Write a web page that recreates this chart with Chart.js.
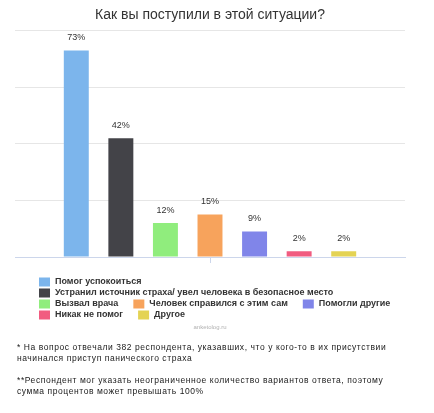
<!DOCTYPE html>
<html><head><meta charset="utf-8">
<script src="https://cdn.jsdelivr.net/npm/chart.js@4/dist/chart.umd.min.js"></script>
<style>html,body{margin:0;padding:0;background:#fff}canvas{display:block}</style>
</head><body>
<canvas id="c" width="434" height="413"></canvas>
<script>
const chartTitle = 'Как вы поступили в этой ситуации?';
const categories = [''];
const seriesNames = [
  'Помог успокоиться',
  'Устранил источник страха/ увел человека в безопасное место',
  'Вызвал врача',
  'Человек справился с этим сам',
  'Помогли другие',
  'Никак не помог',
  'Другое'
];
const seriesValues = [73, 42, 12, 15, 9, 2, 2];
const seriesColors = ['#7cb5ec', '#434348', '#90ed7d', '#f7a35c', '#8085e9', '#f15c80', '#e4d354'];
const yTicks = [0, 20, 40, 60, 80];
const watermark = 'anketolog.ru';
const footnotes = [
  '* На вопрос отвечали 382 респондента, указавших, что у кого-то в их присутствии',
  'начинался приступ панического страха',
  '',
  '**Респондент мог указать неограниченное количество вариантов ответа, поэтому',
  'сумма процентов может превышать 100%'
];

const extras = {
  id: 'extras',
  afterDatasetsDraw(chart) {
    const ctx = chart.ctx;
    ctx.save();
    ctx.font = '9px "Liberation Sans", Arial, sans-serif';
    ctx.fillStyle = '#333';
    ctx.textAlign = 'center';
    ctx.textBaseline = 'middle';
    seriesValues.forEach((v, i) => {
      const bar = chart.getDatasetMeta(i).data[0];
      ctx.fillText(v + '%', bar.x, bar.y - 13);
    });
    ctx.restore();
  },
  afterDraw(chart) {
    const ctx = chart.ctx;
    ctx.save();
    // legend (flow layout)
    ctx.font = 'bold 9px "Liberation Sans", Arial, sans-serif';
    ctx.textBaseline = 'middle';
    ctx.textAlign = 'left';
    const left = 39, right = 412, boxW = 11, boxH = 9, gap = 5, itemGap = 15, rowH = 11;
    let x = left, y = 282;
    seriesNames.forEach((name, i) => {
      const w = boxW + gap + ctx.measureText(name).width;
      if (x > left && x + w > right) { x = left; y += rowH; }
      ctx.fillStyle = seriesColors[i];
      ctx.fillRect(x, y - boxH / 2, boxW, boxH);
      ctx.fillStyle = '#333333';
      ctx.fillText(name, x + boxW + gap, y);
      x += w + itemGap;
    });
    // watermark
    ctx.font = '6px "Liberation Sans", Arial, sans-serif';
    ctx.fillStyle = '#b0b0b0';
    ctx.textAlign = 'center';
    ctx.fillText(watermark, 210, 327);
    // footnotes
    ctx.font = '8.5px "Liberation Sans", Arial, sans-serif';
    ctx.fillStyle = '#1a1a1a';
    ctx.textAlign = 'left';
    if ('letterSpacing' in ctx) ctx.letterSpacing = '0.57px';
    let fy = 348;
    footnotes.forEach(line => {
      if (line) ctx.fillText(line, 17, fy);
      fy += 11;
    });
    ctx.restore();
  }
};

new Chart(document.getElementById('c'), {
  type: 'bar',
  data: {
    labels: categories,
    datasets: seriesNames.map((n, i) => ({
      label: n,
      data: [seriesValues[i]],
      backgroundColor: seriesColors[i],
      categoryPercentage: 0.8,
      barPercentage: 0.56
    }))
  },
  options: {
    responsive: false,
    devicePixelRatio: 1,
    animation: false,
    layout: { padding: { left: 15, right: 29, top: 0, bottom: 150 } },
    plugins: {
      legend: { display: false },
      tooltip: { enabled: false },
      title: {
        display: true,
        text: chartTitle,
        color: '#333333',
        font: { family: '"Liberation Sans", Arial, sans-serif', size: 14, weight: 'normal' },
        padding: { top: 7, bottom: 7 }
      }
    },
    scales: {
      x: {
        grid: { display: true, drawOnChartArea: false, drawTicks: true, tickLength: 6, color: '#ccd6eb', offset: false },
        ticks: { display: false },
        border: { display: true, color: '#ccd6eb' }
      },
      y: {
        min: yTicks[0],
        max: yTicks[yTicks.length - 1],
        afterBuildTicks(scale) { scale.ticks = yTicks.map(v => ({ value: v })); },
        ticks: { display: false },
        grid: { color: '#e6e6e6', drawTicks: false },
        border: { display: false }
      }
    }
  },
  plugins: [extras]
});
</script>
</body></html>
